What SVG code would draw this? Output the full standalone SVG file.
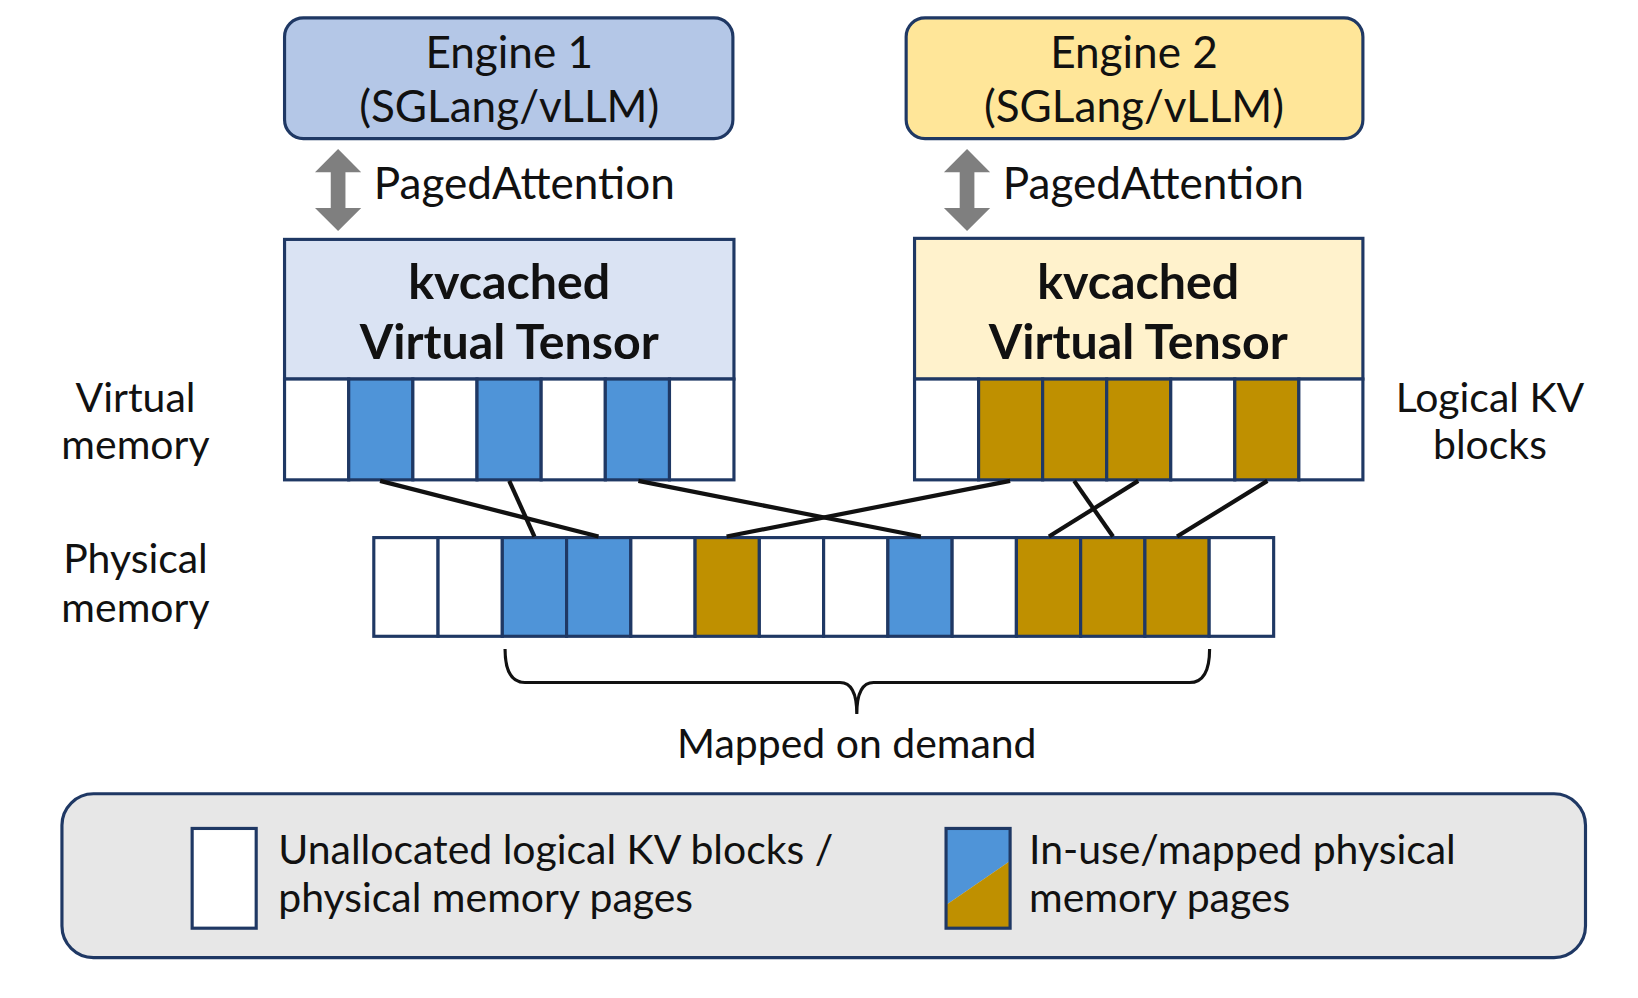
<svg xmlns="http://www.w3.org/2000/svg" width="1638" height="998" viewBox="0 0 1638 998">
<style>
text{font-family:Lato,"Open Sans","Liberation Sans",sans-serif;fill:#111}
.t{font-size:39px}
.e{font-size:42px}
.b{font-size:46px;font-weight:bold}
.s{stroke:#1f3864;stroke-width:3}
.w{fill:#fff}.bl{fill:#4f94d8}.g{fill:#bf9000}
.ln{stroke:#111;stroke-width:4;fill:none}
</style>
<rect width="1638" height="998" fill="#fff"/>
<g transform="scale(1.05)">
<g id="engine1"><rect x="271" y="17" width="427" height="115" rx="18" fill="#b4c7e7" class="s"/>
<text class="e" x="485" y="65" text-anchor="middle">Engine 1</text><text class="e" x="485" y="116" text-anchor="middle">(SGLang/vLLM)</text></g>
<g id="engine2"><rect x="863" y="17" width="435" height="115" rx="18" fill="#ffe699" class="s"/>
<text class="e" x="1080" y="65" text-anchor="middle">Engine 2</text><text class="e" x="1080" y="116" text-anchor="middle">(SGLang/vLLM)</text></g>
<g id="arrows" fill="#7f7f7f">
<path d="M322 142 L344 164 L329 164 L329 198 L344 198 L322 220 L300 198 L315 198 L315 164 L300 164 Z"/>
<path d="M921 142 L943 164 L928 164 L928 198 L943 198 L921 220 L899 198 L914 198 L914 164 L899 164 Z"/>
<text class="e" x="356" y="190">PagedAttention</text>
<text class="e" x="955" y="190">PagedAttention</text>
</g>
<g id="vt1"><rect x="271" y="228" width="428" height="133" fill="#dae3f3" class="s"/>
<text class="b" x="485" y="285" text-anchor="middle">kvcached</text><text class="b" x="485" y="342" text-anchor="middle">Virtual Tensor</text>
<rect x="271" y="361" width="61.1" height="96" class="s w"/><rect x="332.1" y="361" width="61.1" height="96" class="s bl"/><rect x="393.2" y="361" width="61.1" height="96" class="s w"/><rect x="454.3" y="361" width="61.1" height="96" class="s bl"/><rect x="515.4" y="361" width="61.1" height="96" class="s w"/><rect x="576.5" y="361" width="61.1" height="96" class="s bl"/><rect x="637.6" y="361" width="61.4" height="96" class="s w"/>
</g>
<g id="vt2"><rect x="871" y="227" width="427" height="134" fill="#fff2cc" class="s"/>
<text class="b" x="1084" y="285" text-anchor="middle">kvcached</text><text class="b" x="1084" y="342" text-anchor="middle">Virtual Tensor</text>
<rect x="871" y="361" width="61" height="96" class="s w"/><rect x="932" y="361" width="61" height="96" class="s g"/><rect x="993" y="361" width="61" height="96" class="s g"/><rect x="1054" y="361" width="61" height="96" class="s g"/><rect x="1115" y="361" width="61" height="96" class="s w"/><rect x="1176" y="361" width="61" height="96" class="s g"/><rect x="1237" y="361" width="61" height="96" class="s w"/>
</g>
<g id="physical">
<rect x="356" y="512" width="61.2" height="94" class="s w"/><rect x="417.2" y="512" width="61.2" height="94" class="s w"/><rect x="478.4" y="512" width="61.2" height="94" class="s bl"/><rect x="539.6" y="512" width="61.2" height="94" class="s bl"/><rect x="600.8" y="512" width="61.2" height="94" class="s w"/><rect x="662" y="512" width="61.2" height="94" class="s g"/><rect x="723.2" y="512" width="61.2" height="94" class="s w"/><rect x="784.4" y="512" width="61.2" height="94" class="s w"/><rect x="845.6" y="512" width="61.2" height="94" class="s bl"/><rect x="906.8" y="512" width="61.2" height="94" class="s w"/><rect x="968" y="512" width="61.2" height="94" class="s g"/><rect x="1029.2" y="512" width="61.2" height="94" class="s g"/><rect x="1090.4" y="512" width="61.2" height="94" class="s g"/><rect x="1151.6" y="512" width="61.4" height="94" class="s w"/>
</g>
<g id="connectors" class="ln">
<line x1="362" y1="458" x2="570" y2="511"/><line x1="485" y1="458" x2="509" y2="511"/><line x1="608" y1="458" x2="877" y2="511"/>
<line x1="962" y1="458" x2="692" y2="511"/><line x1="1023" y1="458" x2="1060" y2="511"/><line x1="1084" y1="458" x2="999" y2="511"/><line x1="1207" y1="458" x2="1121" y2="511"/>
<path d="M481 618 Q481 650 500 650 L800 650 Q816 650 816 680 Q816 650 832 650 L1133 650 Q1152 650 1152 618" stroke-width="3"/>
</g>
<g id="labels">
<text class="t" x="129" y="392" text-anchor="middle">Virtual</text><text class="t" x="129" y="437" text-anchor="middle">memory</text>
<text class="t" x="129" y="546" text-anchor="middle">Physical</text><text class="t" x="129" y="592" text-anchor="middle">memory</text>
<text class="t" x="1419" y="392" text-anchor="middle">Logical KV</text><text class="t" x="1419" y="437" text-anchor="middle">blocks</text>
<text class="t" x="816" y="722" text-anchor="middle">Mapped on demand</text>
</g>
<g id="legend">
<rect x="59" y="756" width="1451" height="156" rx="30" fill="#e7e7e7" class="s"/>
<rect x="183" y="789" width="61" height="95" class="s w"/>
<text class="t" x="265" y="823">Unallocated logical KV blocks /</text><text class="t" x="265" y="869">physical memory pages</text>
<path d="M901 789 L962 789 L962 820 L901 862 Z" class="bl"/><path d="M962 820 L962 884 L901 884 L901 862 Z" class="g"/>
<rect x="901" y="789" width="61" height="95" fill="none" class="s"/>
<text class="t" x="980" y="823">In-use/mapped physical</text><text class="t" x="980" y="869">memory pages</text>
</g>
</g>
</svg>
